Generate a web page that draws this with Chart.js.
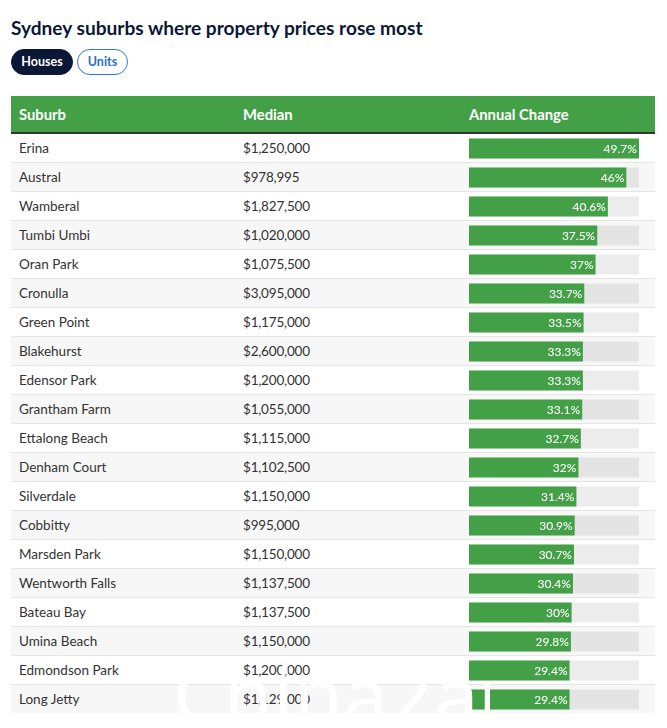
<!DOCTYPE html>
<html>
<head>
<meta charset="utf-8">
<script src="https://cdn.jsdelivr.net/npm/chart.js@4"></script>
<style>
  html, body { margin: 0; padding: 0; background: #fff; }
  body { width: 667px; height: 728px; position: relative; overflow: hidden; font-family: Lato, sans-serif; }
  h1 { position: absolute; left: 11px; top: 15px; margin: 0; font-size: 19.1px; line-height: 26px; font-weight: 700; color: #0b1736; }
  .pill { position: absolute; top: 49px; height: 26px; line-height: 23px; box-sizing: border-box; border-radius: 13px; font-size: 12.5px; font-weight: 700; text-align: center; }
  #houses { left: 11px; width: 62px; background: #0b1736; color: #fff; border: 1px solid #0b1736; }
  #units { left: 77px; width: 51px; background: #fff; color: #2a6fc9; border: 1px solid #2a7bd0; }
  table { position: absolute; left: 11px; top: 96px; width: 644px; border-collapse: collapse; table-layout: fixed; }
  th { height: 36px; padding: 0 0 0 8px; background: #43a047; color: #fff; font-size: 14.8px; font-weight: 700; text-align: left; border-bottom: 2px solid #333; box-sizing: content-box; }
  td { height: 27px; padding: 0 0 1px 8px; font-size: 13.5px; color: #333; border-bottom: 1px solid #e5e5e5; }
  td:nth-child(2) { letter-spacing: -0.2px; }
  tr:nth-child(even) td { background: #f7f7f7; }
  tr:last-child td { border-bottom: none; }
  #chartBox { position: absolute; left: 469px; top: 134px; width: 170px; height: 580px; }
  #mark { position: absolute; left: 173px; top: 644px; width: 317px; height: 69px; overflow: hidden; color: #fff; font-family: "Noto Sans", sans-serif; font-size: 80px; line-height: 100px; white-space: nowrap; }
</style>
</head>
<body>
<h1>Sydney suburbs where property prices rose most</h1>
<div class="pill" id="houses">Houses</div>
<div class="pill" id="units">Units</div>
<table>
  <colgroup><col style="width:224px"><col style="width:226px"><col></colgroup>
  <thead><tr><th>Suburb</th><th>Median</th><th>Annual Change</th></tr></thead>
  <tbody id="rows"></tbody>
</table>
<div id="chartBox"><canvas id="bars" width="170" height="580"></canvas></div>
<div id="mark">China2au</div>
<script>
const suburbs = ['Erina', 'Austral', 'Wamberal', 'Tumbi Umbi', 'Oran Park', 'Cronulla', 'Green Point', 'Blakehurst', 'Edensor Park', 'Grantham Farm', 'Ettalong Beach', 'Denham Court', 'Silverdale', 'Cobbitty', 'Marsden Park', 'Wentworth Falls', 'Bateau Bay', 'Umina Beach', 'Edmondson Park', 'Long Jetty'];
const medians = ['$1,250,000', '$978,995', '$1,827,500', '$1,020,000', '$1,075,500', '$3,095,000', '$1,175,000', '$2,600,000', '$1,200,000', '$1,055,000', '$1,115,000', '$1,102,500', '$1,150,000', '$995,000', '$1,150,000', '$1,137,500', '$1,137,500', '$1,150,000', '$1,200,000', '$1,129,000'];
const changes = [49.7, 46, 40.6, 37.5, 37, 33.7, 33.5, 33.3, 33.3, 33.1, 32.7, 32, 31.4, 30.9, 30.7, 30.4, 30, 29.8, 29.4, 29.4];
const track = [49.7, 49.7, 49.7, 49.7, 49.7, 49.7, 49.7, 49.7, 49.7, 49.7, 49.7, 49.7, 49.7, 49.7, 49.7, 49.7, 49.7, 49.7, 49.7, 49.7];

const tbody = document.getElementById('rows');
suburbs.forEach((name, i) => {
  const tr = document.createElement('tr');
  tr.innerHTML = `<td>${name}</td><td>${medians[i]}</td><td></td>`;
  tbody.append(tr);
});

// value text at the right end of each green bar
const barLabels = {
  id: 'barLabels',
  afterDatasetsDraw(chart) {
    const ctx = chart.ctx;
    const meta = chart.getDatasetMeta(0);
    ctx.save();
    ctx.font = '500 12px Lato, sans-serif';
    ctx.fillStyle = '#fff';
    ctx.textAlign = 'right';
    ctx.textBaseline = 'middle';
    meta.data.forEach((bar, i) => {
      ctx.fillText(changes[i] + '%', bar.x - 2, bar.y + 1);
    });
    ctx.restore();
  }
};

new Chart(document.getElementById('bars'), {
  type: 'bar',
  data: {
    labels: suburbs,
    datasets: [
      { data: changes, backgroundColor: '#43a047', order: 1 },
      { data: track, backgroundColor: 'rgba(0,0,0,0.075)', order: 2 }
    ]
  },
  options: {
    indexAxis: 'y',
    responsive: false,
    animation: false,
    devicePixelRatio: 1,
    layout: { padding: 0 },
    datasets: { bar: { grouped: false, categoryPercentage: 1, barPercentage: 20 / 29 } },
    scales: {
      x: { display: false, min: 0, max: 49.7 },
      y: { display: false }
    },
    plugins: { legend: { display: false }, tooltip: { enabled: false } }
  },
  plugins: [barLabels]
});
</script>
</body>
</html>
